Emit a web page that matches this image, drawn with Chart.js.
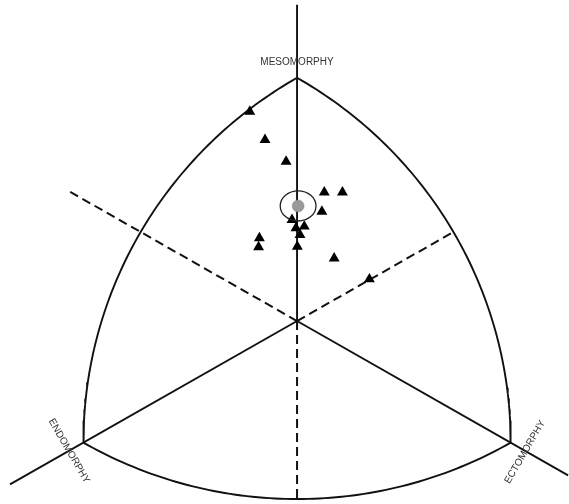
<!DOCTYPE html>
<html>
<head>
<meta charset="utf-8">
<script src="https://cdn.jsdelivr.net/npm/chart.js@4"></script>
<style>
    html, body { margin: 0; padding: 0; background: #fff; }
    #wrap { width: 569px; height: 504px; position: relative; }
</style>
</head>
<body>
<div id="wrap"><canvas id="somatochart"></canvas></div>
<script>
// Somatochart coordinates: X = ecto - endo, Y = 2*meso - (endo + ecto)
const athleteX = [-1.77, -1.20, -0.41, 1.02, 1.70, 0.93, -0.19, 0.27, -0.04, 0.11, -1.41, -1.44, 0.01, 1.39, 2.71];
const athleteY = [13.78, 11.92, 10.49, 8.47, 8.47, 7.20, 6.66, 6.22, 6.11, 5.67, 5.45, 4.87, 4.90, 4.13, 2.75];
const meanX = [0.04];
const meanY = [7.57];
const spreadX = 0.67;   // half-width of the ellipse round the mean, X units
const spreadY = 0.99;   // half-height, Y units

const axisNames = ['MESOMORPHY', 'ENDOMORPHY', 'ECTOMORPHY'];
const mesoPole = [0, 16];
const endoPole = [-8, -8];
const ectoPole = [8, -8];

const S3 = Math.sqrt(3);

// Reuleaux arc through two poles, centred on the third (drawn in equal-aspect space)
function arcPoints(centre, a0, a1) {
    const r = 16 * S3;
    const pts = [];
    for (let i = 0; i <= 80; i++) {
        const t = (a0 + (a1 - a0) * i / 80) * Math.PI / 180;
        pts.push({ x: (centre[0] * S3 + r * Math.cos(t)) / S3, y: centre[1] + r * Math.sin(t) });
    }
    return pts;
}

const edgeMid = 8 * (S3 - 1);  // where a bisector meets the arc

function lineSet(points, dashed) {
    return {
        data: points,
        showLine: true,
        borderColor: '#111',
        borderWidth: dashed ? 2 : 1.9,
        borderDash: dashed ? [9, 5] : [],
        pointRadius: 0,
        fill: false,
        tension: 0,
        order: 5
    };
}

const ellipsePlugin = {
    id: 'meanEllipse',
    afterDatasetsDraw(chart) {
        const { ctx, scales: { x, y } } = chart;
        const cx = x.getPixelForValue(meanX[0]);
        const cy = y.getPixelForValue(meanY[0]);
        const rx = Math.abs(x.getPixelForValue(meanX[0] + spreadX) - cx);
        const ry = Math.abs(y.getPixelForValue(meanY[0] + spreadY) - cy);
        ctx.save();
        ctx.beginPath();
        ctx.ellipse(cx, cy, rx, ry, 0, 0, Math.PI * 2);
        ctx.strokeStyle = '#222';
        ctx.lineWidth = 1.3;
        ctx.stroke();
        ctx.restore();
    }
};

function drawLabel(ctx, text, x, y, deg) {
    ctx.save();
    ctx.font = '10px "Liberation Sans", Arial, sans-serif';
    ctx.fillStyle = '#333';
    ctx.textAlign = 'center';
    ctx.textBaseline = 'middle';
    ctx.translate(x, y);
    ctx.rotate(deg * Math.PI / 180);
    ctx.fillText(text, 0, 0);
    ctx.restore();
}

const labelPlugin = {
    id: 'poleLabels',
    afterDraw(chart) {
        const { ctx } = chart;
        drawLabel(ctx, axisNames[0], 297, 62, 0);
        drawLabel(ctx, axisNames[1], 69, 451, 60);
        drawLabel(ctx, axisNames[2], 525, 452, -60);
    }
};

const ctx = document.getElementById('somatochart').getContext('2d');
new Chart(ctx, {
    type: 'scatter',
    data: {
        datasets: [
            lineSet([{ x: 0, y: 20.8 }, { x: 0, y: 0 }], false),
            lineSet([{ x: 0, y: 0 }, { x: 0, y: -2 * edgeMid }], true),
            lineSet([{ x: 0, y: 0 }, { x: -10.75, y: -10.75 }], false),
            lineSet([{ x: 0, y: 0 }, { x: 10.15, y: -10.15 }], false),
            lineSet([{ x: 0, y: 0 }, { x: -8.57, y: 8.57 }], true),
            lineSet([{ x: 0, y: 0 }, { x: edgeMid, y: edgeMid }], true),
            lineSet(arcPoints(ectoPole, 120, 180), false),
            lineSet(arcPoints(endoPole, 60, 0), false),
            lineSet(arcPoints(mesoPole, 240, 300), false),
            {
                data: athleteX.map((v, i) => ({ x: v, y: athleteY[i] })),
                pointStyle: 'triangle',
                pointRadius: 6.3,
                backgroundColor: '#000',
                borderColor: '#000',
                borderWidth: 0,
                order: 2
            },
            {
                data: meanX.map((v, i) => ({ x: v, y: meanY[i] })),
                pointStyle: 'circle',
                pointRadius: 6,
                backgroundColor: '#9a9a9a',
                borderColor: '#8a8a8a',
                borderWidth: 0.5,
                order: 1
            }
        ]
    },
    options: {
        responsive: true,
        maintainAspectRatio: false,
        animation: false,
        layout: { padding: 0 },
        clip: false,
        // ranges allow for the ~6.5px point overflow Chart.js reserves round the plot
        scales: {
            x: { type: 'linear', min: -10.88, max: 9.94, display: false },
            y: { type: 'linear', min: -11.61, max: 20.69, display: false }
        },
        plugins: {
            legend: { display: false },
            tooltip: { enabled: false }
        }
    },
    plugins: [ellipsePlugin, labelPlugin]
});
</script>
</body>
</html>
